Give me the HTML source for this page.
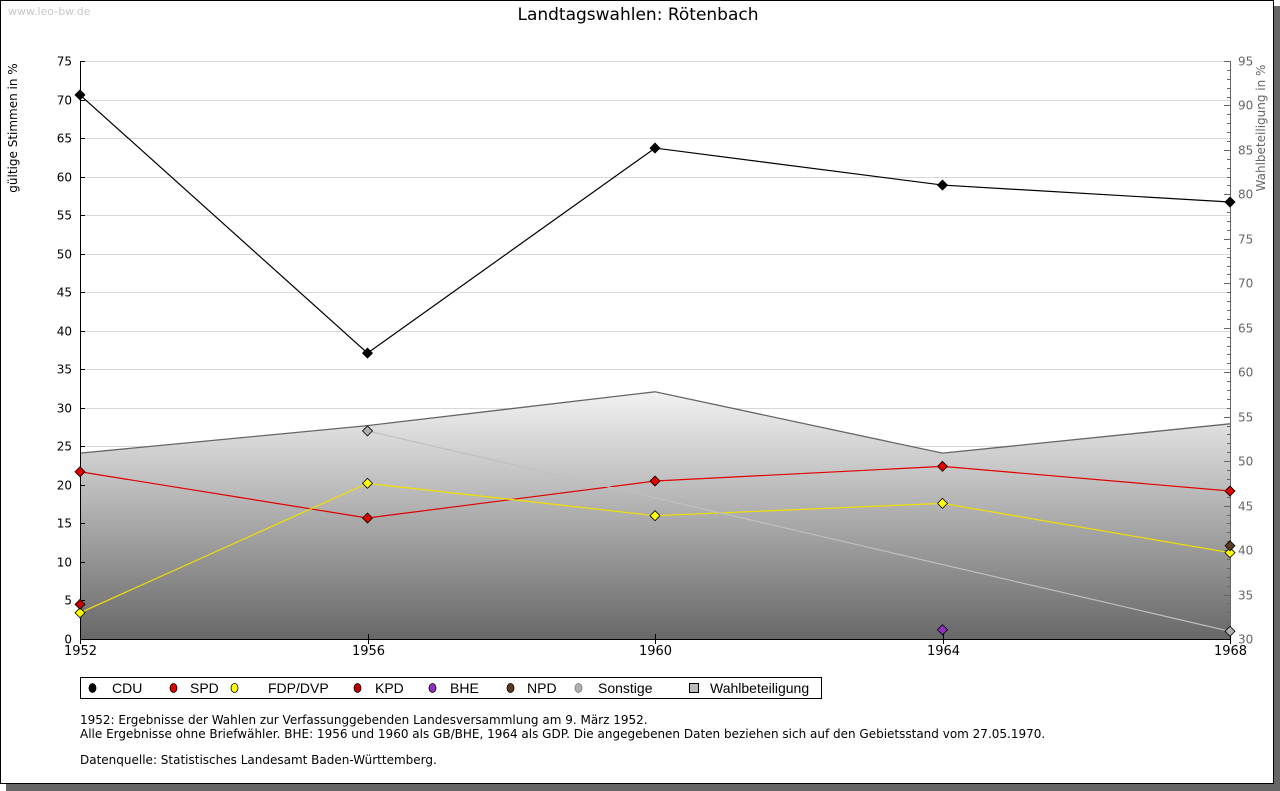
<!DOCTYPE html>
<html><head><meta charset="utf-8"><style>
html,body{margin:0;padding:0;background:#fff;}
body{width:1280px;height:791px;position:relative;overflow:hidden;font-family:"DejaVu Sans","Liberation Sans",sans-serif;}
</style></head><body>
<svg id="chart" width="1280" height="791" xmlns="http://www.w3.org/2000/svg" style="position:absolute;left:0;top:0" font-family="DejaVu Sans, Liberation Sans, sans-serif">
<defs>
<linearGradient id="wg" x1="0" y1="0" x2="0" y2="1">
<stop offset="0" stop-color="#f2f2f2"/><stop offset="1" stop-color="#686868"/>
</linearGradient>
</defs>
<rect x="6" y="6" width="1274" height="785" fill="#666"/>
<rect x="0.5" y="0.5" width="1273" height="783" fill="#fff" stroke="#000"/>
<text x="8" y="15" font-size="11" fill="#c8c8c8">www.leo-bw.de</text>
<text x="638" y="20" font-size="17" text-anchor="middle" fill="#000">Landtagswahlen: Rötenbach</text>
<text transform="translate(17,350) rotate(-90)" font-size="12" text-anchor="middle" x="222" y="0">gültige Stimmen in %</text>
<text transform="translate(1265,350) rotate(-90)" font-size="12" text-anchor="middle" fill="#666" x="222" y="0">Wahlbeteiligung in %</text>
<g id="grid"></g><g id="area"></g><g id="lines"></g><g id="axes"></g><g id="marks"></g>
<g>
<rect x="80.5" y="677.5" width="741" height="21" fill="#fff" stroke="#000"/>
</g>
<g id="legend" font-family="Liberation Sans Narrow, Liberation Sans, sans-serif"></g>
<text x="80" y="724" font-size="12">1952: Ergebnisse der Wahlen zur Verfassunggebenden Landesversammlung am 9. März 1952.</text>
<text x="80" y="738" font-size="12">Alle Ergebnisse ohne Briefwähler. BHE: 1956 und 1960 als GB/BHE, 1964 als GDP. Die angegebenen Daten beziehen sich auf den Gebietsstand vom 27.05.1970.</text>
<text x="80" y="764" font-size="12">Datenquelle: Statistisches Landesamt Baden-Württemberg.</text>
</svg>
<script>
const years=[1952,1956,1960,1964,1968];
const cdu=[70.6,37.1,63.7,58.9,56.7];
const spd=[21.7,15.7,20.5,22.4,19.2];
const fdp=[3.4,20.2,16.0,17.6,11.2];
const kpd=[4.5,null,null,null,null];
const bhe=[null,null,null,1.2,null];
const npd=[null,null,null,null,12.1];
const sonstige=[null,27.0,null,null,1.0];
const wahlbeteiligung=[50.9,54.0,57.8,50.9,54.2];
const leftTicks=[0,5,10,15,20,25,30,35,40,45,50,55,60,65,70,75];
const rightTicks=[30,35,40,45,50,55,60,65,70,75,80,85,90,95];

const NS="http://www.w3.org/2000/svg";
const X0=80,X1=1230,Y0=639,Y1=61;
const xs=i=>X0+(years[i]-years[0])/(years[years.length-1]-years[0])*(X1-X0);
const yl=v=>Y0-(v-0)/75*(Y0-Y1);
const yr=v=>Y0-(v-30)/65*(Y0-Y1);
function mk(tag,attrs,parent){const e=document.createElementNS(NS,tag);for(const k in attrs)e.setAttribute(k,attrs[k]);document.getElementById(parent).appendChild(e);return e;}

leftTicks.forEach(v=>{
  const y=Math.round(yl(v))+0.5;
  if(v>0){const g=mk('line',{x1:X0,x2:X1,y1:y,y2:y,stroke:'#d8d8d8'},'grid');
  
  }
  const t=mk('text',{x:X0-8,y:y+4,'font-size':12,'text-anchor':'end'},'axes');t.textContent=v;
  
  
  mk('line',{x1:X0,x2:X0+5,y1:y,y2:y,stroke:'#000'},'axes');
});
rightTicks.forEach(v=>{
  const y=Math.round(yr(v))+0.5;
  const t=mk('text',{x:X1+8,y:y+4,'font-size':12,fill:'#666'},'axes');t.textContent=v;
  
  
  mk('line',{x1:X1-6,x2:X1,y1:y,y2:y,stroke:'#666'},'axes');
  if(v<95)for(let k=1;k<5;k++){const yy=Math.round(yr(v+k))+0.5;mk('line',{x1:X1-3,x2:X1,y1:yy,y2:yy,stroke:'#666'},'axes');}
});
let pts=wahlbeteiligung.map((v,i)=>xs(i)+','+yr(v));
const ar=mk('polygon',{points:X0+','+Y0+' '+pts.join(' ')+' '+X1+','+Y0,fill:'url(#wg)'},'area');


const al=mk('polyline',{points:pts.join(' '),fill:'none',stroke:'#666','stroke-width':1.3},'area');


mk('line',{x1:X0+0.5,x2:X0+0.5,y1:Y1,y2:Y0,stroke:'#000'},'axes');
mk('line',{x1:X1+0.5,x2:X1+0.5,y1:Y1,y2:Y0,stroke:'#666'},'axes');
mk('line',{x1:X0,x2:X1,y1:Y0+0.5,y2:Y0+0.5,stroke:'#000'},'axes');
years.forEach((yv,i)=>{
  const x=Math.round(xs(i))+0.5;
  mk('line',{x1:x,x2:x,y1:Y0-5,y2:Y0+5,stroke:'#000'},'axes');
  const t=mk('text',{x:x,y:Y0+16,'font-size':13,'text-anchor':'middle'},'axes');t.textContent=yv;
  
  
});
const series=[
 ['cdu',cdu,'#000','#000'],['spd',spd,'#e00000','#e00000'],['fdp',fdp,'#ffff00','#f0e000'],
 ['kpd',kpd,'#c00000','#c00000'],['bhe',bhe,'#9030c0','#9030c0'],['npd',npd,'#5a3a20','#5a3a20'],
 ['sonstige',sonstige,'#b0b0b0','#c0c0c0']];
series.forEach(([n,arr,fill,stroke])=>{
  const p=[];arr.forEach((v,i)=>{if(v!==null)p.push(xs(i)+','+yl(v));});
  if(p.length>1){const l=mk('polyline',{points:p.join(' '),fill:'none',stroke:stroke,'stroke-width':1.2},'lines');
  
  }
  arr.forEach((v,i)=>{if(v===null)return;const x=xs(i),y=yl(v);
    const m=mk('polygon',{points:`${x},${y-5} ${x+5},${y} ${x},${y+5} ${x-5},${y}`,fill:fill,stroke:'#000','stroke-width':0.8},'marks');
    
    
  });
});
const leg=[['CDU','#000',92,112],['SPD','#e00000',173,190],['FDP/DVP','#ffff00',234,268],['KPD','#c00000',357,375],['BHE','#9030c0',432,450],['NPD','#5a3a20',510,527],['Sonstige','#b0b0b0',578,598]];
leg.forEach(([lab,c,x,tx])=>{
  const m=mk('ellipse',{cx:x+0.5,cy:688,rx:3.5,ry:4.5,fill:c,stroke:(lab==='Sonstige'?'#777':'#000'),'stroke-width':0.8},'legend');
  
  
  const t=mk('text',{x:tx,y:693,'font-size':14},'legend');t.textContent=lab;
  
  
});
const sq=mk('rect',{x:689.5,y:683.5,width:9,height:9,fill:'#bbb',stroke:'#000'},'legend');


const wt=mk('text',{x:710,y:693,'font-size':14},'legend');wt.textContent='Wahlbeteiligung';


</script>
</body></html>
